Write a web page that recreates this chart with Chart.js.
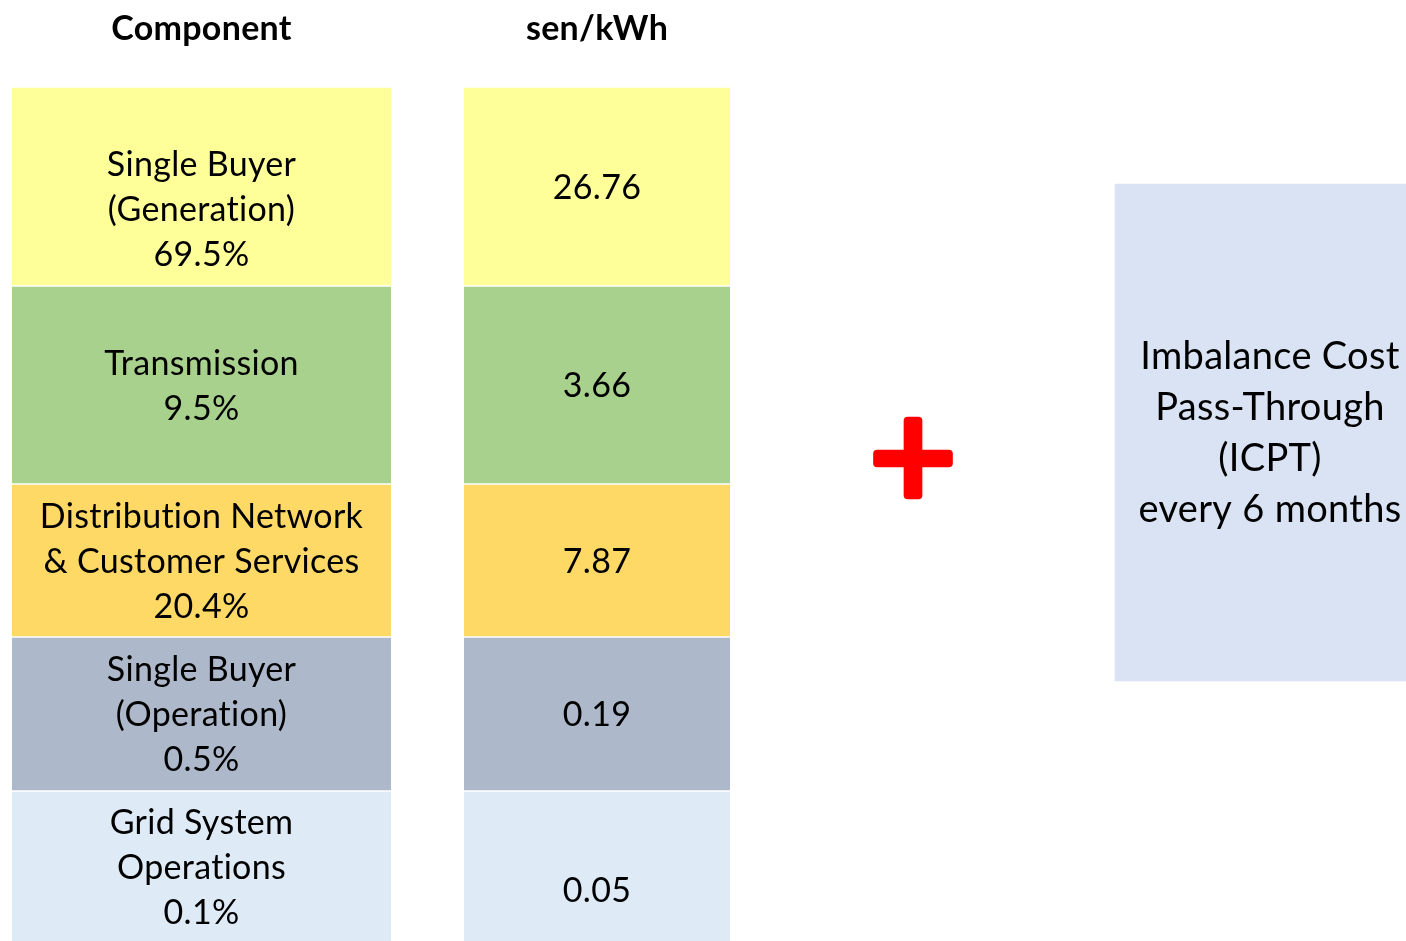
<!DOCTYPE html>
<html>
<head>
<meta charset="utf-8">
<title>Tariff components</title>
<script src="https://cdn.jsdelivr.net/npm/chart.js@4.4.1/dist/chart.umd.min.js"></script>
<style>
    html, body { margin: 0; padding: 0; background: #ffffff; }
    canvas { display: block; }
</style>
</head>
<body>
<canvas id="tariffChart" width="1406" height="941"></canvas>
<script>
// Table content
const headers = ['Component', 'sen/kWh'];
const components = [
    ['Single Buyer', '(Generation)'],
    ['Transmission'],
    ['Distribution Network', '& Customer Services'],
    ['Single Buyer', '(Operation)'],
    ['Grid System', 'Operations']
];
const shares = [69.5, 9.5, 20.4, 0.5, 0.1];          // % of base tariff
const senPerKwh = [26.76, 3.66, 7.87, 0.19, 0.05];
const icptLines = ['Imbalance Cost', 'Pass-Through', '(ICPT)', 'every 6 months'];

// Layout (value units of the hidden scales)
const rowEdges = [87, 286, 484, 637, 791, 943];
const rowColors = ['#FFFF99', '#A9D18E', '#FFD966', '#ADB9CA', '#DEEBF7'];
const tableColumns = [{ left: 12, right: 391 }, { left: 464, right: 730 }];
const blankLinesAbove = { component: [1, 0, 0, 0, 0], value: [0, 0, 0, 0, 1] };
const plusSign = { x: 913, armLength: 79, armWidth: 18, top: 417, bottom: 499, barTop: 450, barBottom: 467 };
const icptBox = { left: 1115, right: 1425, top: 184, bottom: 681, color: '#DAE3F3' };

const fontFamily = 'Lato, "Open Sans", sans-serif';
const lineGap = 45;

document.addEventListener('DOMContentLoaded', function() {

    // one dataset per table column so each column gets its own width
    const columnDatasets = tableColumns.map(col => ({
        data: rowColors.map((c, i) => ({ x: (col.left + col.right) / 2, y: [rowEdges[i], rowEdges[i + 1]] })),
        backgroundColor: rowColors,
        borderColor: '#ffffff',
        borderWidth: { top: 1, bottom: 1, left: 0, right: 0 },
        borderSkipped: false,
        barThickness: col.right - col.left,
        grouped: false
    }));

    const plusDatasets = [
        {
            data: [{ x: plusSign.x, y: [plusSign.barTop, plusSign.barBottom] }],
            barThickness: plusSign.armLength
        },
        {
            data: [{ x: plusSign.x, y: [plusSign.top, plusSign.bottom] }],
            barThickness: plusSign.armWidth
        }
    ].map(ds => ({ ...ds, backgroundColor: '#FF0000', borderRadius: 4, borderSkipped: false, grouped: false }));

    const boxDataset = {
        data: [{ x: (icptBox.left + icptBox.right) / 2, y: [icptBox.top, icptBox.bottom] }],
        backgroundColor: icptBox.color,
        barThickness: icptBox.right - icptBox.left,
        grouped: false
    };

    // Draw the cell texts on top of the bars
    const cellText = {
        id: 'cellText',
        afterDatasetsDraw(chart) {
            const { ctx, scales: { x, y } } = chart;
            ctx.save();
            ctx.fillStyle = '#000000';
            ctx.textAlign = 'center';
            ctx.textBaseline = 'alphabetic';
            ctx.letterSpacing = '0.3px';   // also keeps Lato from joining "ti"

            function drawLines(lines, cx, midValue, gap, capHalf) {
                const n = lines.length;
                lines.forEach((line, i) => {
                    const py = y.getPixelForValue(midValue) + (i - (n - 1) / 2) * gap + capHalf;
                    ctx.fillText(line, x.getPixelForValue(cx), py);
                });
            }

            // headers
            ctx.font = 'bold 34px ' + fontFamily;
            headers.forEach((h, i) => {
                const col = tableColumns[i];
                drawLines([h], (col.left + col.right) / 2, 28, lineGap, 12);
            });

            // rows
            ctx.font = '34px ' + fontFamily;
            components.forEach((name, i) => {
                const mid = (rowEdges[i] + rowEdges[i + 1]) / 2;
                const c1 = tableColumns[0], c2 = tableColumns[1];
                const left = Array(blankLinesAbove.component[i]).fill('')
                    .concat(name, [shares[i].toFixed(1) + '%']);
                drawLines(left, (c1.left + c1.right) / 2, mid, lineGap, 12);
                const right = Array(blankLinesAbove.value[i]).fill('').concat([senPerKwh[i].toFixed(2)]);
                drawLines(right, (c2.left + c2.right) / 2, mid, lineGap, 12);
            });

            // ICPT box
            ctx.font = '38px ' + fontFamily;
            drawLines(icptLines, 1270, (icptBox.top + icptBox.bottom) / 2, 51.3, 13);

            ctx.restore();
        }
    };

    new Chart(document.getElementById('tariffChart'), {
        type: 'bar',
        data: { datasets: [boxDataset, ...columnDatasets, ...plusDatasets] },
        options: {
            responsive: false,
            animation: false,
            layout: { padding: 0 },
            scales: {
                x: { type: 'linear', min: 0, max: 1406, offset: false, display: false },
                y: { type: 'linear', min: 0, max: 941, reverse: true, display: false }
            },
            plugins: {
                legend: { display: false },
                tooltip: { enabled: false }
            }
        },
        plugins: [cellText]
    });
});
</script>
</body>
</html>
